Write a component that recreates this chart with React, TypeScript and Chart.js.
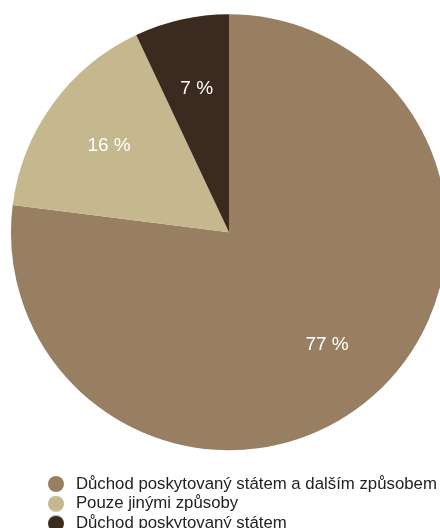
import React, { useEffect, useRef } from "react";
import { Chart, registerables } from "chart.js";

Chart.register(...registerables);

const categories: string[] = [
  "Důchod poskytovaný státem a dalším způsobem",
  "Pouze jinými způsoby",
  "Důchod poskytovaný státem",
];
const shares: number[] = [77, 16, 7];
const sliceColors: string[] = ["#987f62", "#c5b88f", "#3b2a1f"];
const valueSuffix = " %";

const FONT = "'Liberation Sans', Arial, Helvetica, sans-serif";

function makeDot(color: string): HTMLCanvasElement {
  const c = document.createElement("canvas");
  c.width = 18;
  c.height = 18;
  const g = c.getContext("2d")!;
  g.fillStyle = color;
  g.beginPath();
  g.arc(9, 9, 8, 0, Math.PI * 2);
  g.fill();
  return c;
}

const sliceLabels = {
  id: "sliceLabels",
  afterDatasetsDraw(chart: any) {
    const ctx = chart.ctx;
    const meta = chart.getDatasetMeta(0);
    const data = chart.data.datasets[0].data as number[];
    ctx.save();
    ctx.fillStyle = "#ffffff";
    ctx.font = `19px ${FONT}`;
    ctx.textAlign = "center";
    ctx.textBaseline = "middle";
    meta.data.forEach((arc: any, i: number) => {
      const p = arc.getProps(["x", "y", "startAngle", "endAngle", "outerRadius"], true);
      const mid = (p.startAngle + p.endAngle) / 2;
      const r = p.outerRadius * 0.68;
      ctx.fillText(`${data[i]}${valueSuffix}`, p.x + Math.cos(mid) * r, p.y + Math.sin(mid) * r + 1);
    });
    ctx.restore();
  },
};

// let the legend text run to the canvas edge instead of being clipped at the chart area
const legendToEdge = {
  id: "legendToEdge",
  afterLayout(chart: any) {
    const l = chart.legend;
    if (l) {
      l.right = chart.width;
      l.width = l.right - l.left;
    }
  },
};

export default function App() {
  const ref = useRef<HTMLCanvasElement | null>(null);

  useEffect(() => {
    if (!ref.current) return;
    const dots = sliceColors.map(makeDot);
    const baseGen =
      (Chart as any).overrides?.pie?.plugins?.legend?.labels?.generateLabels ||
      (Chart as any).overrides?.doughnut?.plugins?.legend?.labels?.generateLabels;
    const chart = new Chart(ref.current, {
      type: "pie",
      data: {
        labels: categories,
        datasets: [
          {
            data: shares,
            backgroundColor: sliceColors,
            borderWidth: 0,
            radius: 218,
            clip: false,
          } as any,
        ],
      },
      options: {
        animation: false,
        responsive: false,
        layout: { padding: { left: 41.5, right: 23.5, top: 0, bottom: 0 } },
        plugins: {
          tooltip: { enabled: false },
          legend: {
            position: "bottom",
            align: "start",
            labels: {
              usePointStyle: true,
              pointStyleWidth: 23,
              boxHeight: 11,
              padding: 3,
              color: "#222222",
              font: { size: 16.8, family: FONT },
              generateLabels: (c: any) => {
                const items = baseGen(c);
                return items.map((it: any, i: number) => ({ ...it, pointStyle: dots[i] }));
              },
            },
          },
        },
      } as any,
      plugins: [sliceLabels, legendToEdge],
    });
    return () => chart.destroy();
  }, []);

  return (
    <div style={{ position: "absolute", left: 0, top: -8, width: 440, height: 550 }}>
      <canvas ref={ref} width={440} height={550} style={{ display: "block" }} />
    </div>
  );
}
